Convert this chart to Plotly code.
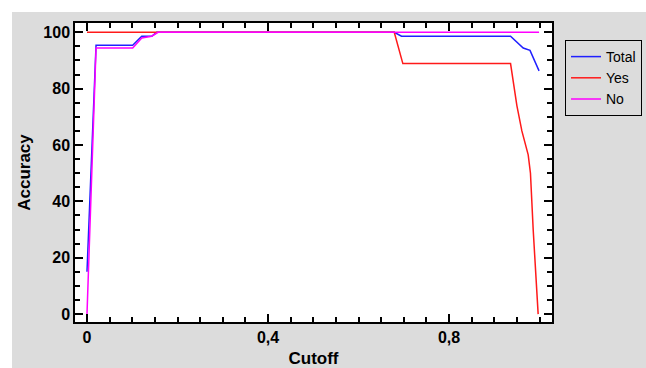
import plotly.graph_objects as go

# Data
total_x = [0.0, 0.020, 0.101, 0.121, 0.143, 0.154, 0.679, 0.695, 0.936, 0.957, 0.964, 0.979, 0.999]
total_y = [15.0, 95.4, 95.4, 98.6, 98.6, 100.0, 100.0, 98.6, 98.6, 95.4, 94.4, 93.6, 86.3]

yes_x = [0.0, 0.679, 0.698, 0.936, 0.950, 0.961, 0.975, 0.980, 0.986, 0.992, 0.997]
yes_y = [100.0, 100.0, 88.9, 88.9, 74.0, 65.0, 56.5, 50.0, 30.0, 13.0, 0.0]

no_x = [0.0, 0.020, 0.101, 0.121, 0.143, 0.157, 0.999]
no_y = [0.0, 94.4, 94.4, 98.0, 98.6, 100.0, 100.0]

x_ticks = [0, 0.4, 0.8]
y_ticks = [0, 20, 40, 60, 80, 100]

FONT = "Liberation Sans, Arial, sans-serif"
GRAY = "#dcdcdc"

fig = go.Figure()
fig.add_trace(go.Scatter(x=total_x, y=total_y, mode="lines", name="Total",
                         line=dict(color="#2020ff", width=1.5)))
fig.add_trace(go.Scatter(x=yes_x, y=yes_y, mode="lines", name="Yes",
                         line=dict(color="#ff1a1a", width=1.5)))
fig.add_trace(go.Scatter(x=no_x, y=no_y, mode="lines", name="No",
                         line=dict(color="#ff00ff", width=1.5)))

axis_common = dict(
    showgrid=False, zeroline=False, showline=True, linecolor="black", linewidth=1.5,
    mirror="ticks", ticks="inside", ticklen=8, tickwidth=1.5, tickcolor="black",
    tickfont=dict(family=FONT, size=16, color="black", weight="bold"),
)

fig.update_xaxes(
    range=[-0.0265, 1.0276], tickmode="array", tickvals=x_ticks,
    minor=dict(dtick=0.05, tick0=0, ticks="inside", ticklen=5, tickwidth=1.5, tickcolor="black"),
    title=dict(text="<b>Cutoff</b>", font=dict(family=FONT, size=17, color="black"), standoff=7),
    **axis_common,
)
fig.update_yaxes(
    range=[-2.8, 103.3], tickmode="array", tickvals=y_ticks,
    minor=dict(dtick=5, tick0=0, ticks="inside", ticklen=5, tickwidth=1.5, tickcolor="black"),
    title=dict(text="<b>Accuracy</b>", font=dict(family=FONT, size=17, color="black"), standoff=8),
    **axis_common,
)

# white strips at top and left edges of the image
shapes = [
    dict(type="rect", xref="paper", yref="paper", x0=-0.2, x1=1.3,
         y0=(322 - 12) / 299, y1=1.2, fillcolor="white", line=dict(width=0), layer="below"),
    dict(type="rect", xref="paper", yref="paper", x0=-0.2, x1=(12 - 75) / 477,
         y0=-0.3, y1=1.2, fillcolor="white", line=dict(width=0), layer="below"),
]

fig.update_layout(
    width=646, height=368,
    margin=dict(l=75, r=94, t=23, b=46, autoexpand=False),
    paper_bgcolor=GRAY, plot_bgcolor="white",
    separators=",.",
    shapes=shapes,
    showlegend=True,
    legend=dict(x=(565 - 75) / 477, y=(322 - 40) / 299, xanchor="left", yanchor="top",
                bgcolor=GRAY, bordercolor="black", borderwidth=1,
                font=dict(family=FONT, size=14, color="black"),
                tracegroupgap=0, itemwidth=30),
)

fig.write_html(
    "out.html",
    config={"displayModeBar": False},
    post_script="document.body.style.margin='0';document.body.style.overflow='hidden';",
)
